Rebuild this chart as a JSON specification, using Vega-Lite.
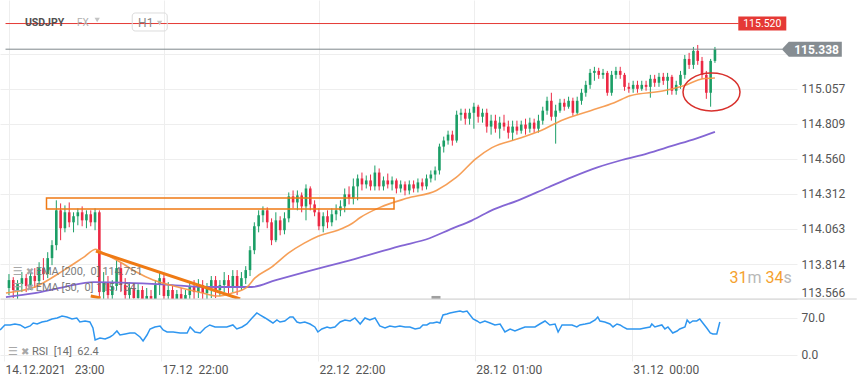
{
"$schema":"https://vega.github.io/schema/vega-lite/v6.json",
"padding":0,"spacing":0,"bounds":"flush","background":"white",
"config":{"view":{"stroke":null},"font":"Roboto","axis":{"domain":false,"ticks":false,"labelFont":"Roboto","labelFontSize":12,"labelColor":"#555","gridColor":"#eeeeee","labelOverlap":false}},
"datasets":{
"candles":[
{"t":0,"o":113.644,"h":113.743,"l":113.594,"c":113.700},
{"t":1,"o":113.700,"h":113.721,"l":113.573,"c":113.630},
{"t":2,"o":113.630,"h":113.700,"l":113.559,"c":113.672},
{"t":3,"o":113.672,"h":113.757,"l":113.615,"c":113.714},
{"t":4,"o":113.714,"h":113.743,"l":113.615,"c":113.658},
{"t":5,"o":113.658,"h":113.771,"l":113.630,"c":113.729},
{"t":6,"o":113.729,"h":113.785,"l":113.644,"c":113.693},
{"t":7,"o":113.693,"h":113.827,"l":113.665,"c":113.785},
{"t":8,"o":113.785,"h":113.856,"l":113.700,"c":113.743},
{"t":9,"o":113.743,"h":113.898,"l":113.714,"c":113.856},
{"t":10,"o":113.856,"h":113.983,"l":113.806,"c":113.948},
{"t":11,"o":113.948,"h":114.266,"l":113.912,"c":114.195},
{"t":12,"o":114.195,"h":114.244,"l":113.983,"c":114.068},
{"t":13,"o":114.068,"h":114.230,"l":114.039,"c":114.181},
{"t":14,"o":114.181,"h":114.251,"l":114.075,"c":114.110},
{"t":15,"o":114.110,"h":114.181,"l":114.039,"c":114.153},
{"t":16,"o":114.153,"h":114.209,"l":114.089,"c":114.181},
{"t":17,"o":114.181,"h":114.223,"l":114.082,"c":114.124},
{"t":18,"o":114.124,"h":114.195,"l":114.068,"c":114.167},
{"t":19,"o":114.167,"h":114.195,"l":114.082,"c":114.110},
{"t":20,"o":114.110,"h":114.209,"l":114.054,"c":114.181},
{"t":21,"o":114.181,"h":114.195,"l":113.524,"c":113.615},
{"t":22,"o":113.615,"h":113.757,"l":113.559,"c":113.686},
{"t":23,"o":113.686,"h":113.729,"l":113.524,"c":113.594},
{"t":24,"o":113.594,"h":113.700,"l":113.502,"c":113.658},
{"t":25,"o":113.658,"h":113.842,"l":113.630,"c":113.785},
{"t":26,"o":113.785,"h":113.827,"l":113.615,"c":113.665},
{"t":27,"o":113.665,"h":113.714,"l":113.502,"c":113.594},
{"t":28,"o":113.594,"h":113.686,"l":113.538,"c":113.644},
{"t":29,"o":113.644,"h":113.679,"l":113.488,"c":113.573},
{"t":30,"o":113.573,"h":113.672,"l":113.524,"c":113.630},
{"t":31,"o":113.630,"h":113.658,"l":113.474,"c":113.545},
{"t":32,"o":113.545,"h":113.644,"l":113.488,"c":113.587},
{"t":33,"o":113.587,"h":113.630,"l":113.453,"c":113.524},
{"t":34,"o":113.524,"h":113.700,"l":113.488,"c":113.665},
{"t":35,"o":113.665,"h":113.757,"l":113.594,"c":113.714},
{"t":36,"o":113.714,"h":113.743,"l":113.524,"c":113.587},
{"t":37,"o":113.587,"h":113.686,"l":113.488,"c":113.630},
{"t":38,"o":113.630,"h":113.665,"l":113.474,"c":113.559},
{"t":39,"o":113.559,"h":113.630,"l":113.502,"c":113.601},
{"t":40,"o":113.601,"h":113.644,"l":113.474,"c":113.538},
{"t":41,"o":113.538,"h":113.630,"l":113.488,"c":113.594},
{"t":42,"o":113.594,"h":113.686,"l":113.559,"c":113.651},
{"t":43,"o":113.651,"h":113.700,"l":113.559,"c":113.615},
{"t":44,"o":113.615,"h":113.707,"l":113.573,"c":113.665},
{"t":45,"o":113.665,"h":113.700,"l":113.545,"c":113.608},
{"t":46,"o":113.608,"h":113.679,"l":113.524,"c":113.644},
{"t":47,"o":113.644,"h":113.729,"l":113.573,"c":113.700},
{"t":48,"o":113.700,"h":113.729,"l":113.573,"c":113.630},
{"t":49,"o":113.630,"h":113.700,"l":113.587,"c":113.665},
{"t":50,"o":113.665,"h":113.757,"l":113.615,"c":113.700},
{"t":51,"o":113.700,"h":113.736,"l":113.601,"c":113.644},
{"t":52,"o":113.644,"h":113.771,"l":113.615,"c":113.729},
{"t":53,"o":113.729,"h":113.771,"l":113.594,"c":113.658},
{"t":54,"o":113.658,"h":113.757,"l":113.630,"c":113.714},
{"t":55,"o":113.714,"h":113.799,"l":113.672,"c":113.771},
{"t":56,"o":113.771,"h":113.941,"l":113.729,"c":113.912},
{"t":57,"o":113.912,"h":114.110,"l":113.884,"c":114.082},
{"t":58,"o":114.082,"h":114.195,"l":114.039,"c":114.160},
{"t":59,"o":114.160,"h":114.223,"l":114.110,"c":114.195},
{"t":60,"o":114.195,"h":114.216,"l":114.068,"c":114.110},
{"t":61,"o":114.110,"h":114.138,"l":113.948,"c":113.983},
{"t":62,"o":113.983,"h":114.181,"l":113.969,"c":114.124},
{"t":63,"o":114.124,"h":114.153,"l":114.018,"c":114.054},
{"t":64,"o":114.054,"h":114.181,"l":114.025,"c":114.138},
{"t":65,"o":114.138,"h":114.322,"l":114.110,"c":114.294},
{"t":66,"o":114.294,"h":114.336,"l":114.209,"c":114.251},
{"t":67,"o":114.251,"h":114.336,"l":114.195,"c":114.301},
{"t":68,"o":114.301,"h":114.322,"l":114.181,"c":114.223},
{"t":69,"o":114.223,"h":114.379,"l":114.124,"c":114.350},
{"t":70,"o":114.350,"h":114.365,"l":114.195,"c":114.237},
{"t":71,"o":114.237,"h":114.266,"l":114.153,"c":114.181},
{"t":72,"o":114.181,"h":114.209,"l":114.054,"c":114.082},
{"t":73,"o":114.082,"h":114.181,"l":114.039,"c":114.153},
{"t":74,"o":114.153,"h":114.195,"l":114.068,"c":114.110},
{"t":75,"o":114.110,"h":114.209,"l":114.082,"c":114.167},
{"t":76,"o":114.167,"h":114.237,"l":114.124,"c":114.195},
{"t":77,"o":114.195,"h":114.266,"l":114.153,"c":114.223},
{"t":78,"o":114.223,"h":114.350,"l":114.181,"c":114.308},
{"t":79,"o":114.308,"h":114.365,"l":114.237,"c":114.280},
{"t":80,"o":114.280,"h":114.421,"l":114.237,"c":114.365},
{"t":81,"o":114.365,"h":114.449,"l":114.266,"c":114.421},
{"t":82,"o":114.421,"h":114.463,"l":114.336,"c":114.379},
{"t":83,"o":114.379,"h":114.442,"l":114.350,"c":114.407},
{"t":84,"o":114.407,"h":114.449,"l":114.336,"c":114.365},
{"t":85,"o":114.365,"h":114.513,"l":114.336,"c":114.463},
{"t":86,"o":114.463,"h":114.492,"l":114.336,"c":114.365},
{"t":87,"o":114.365,"h":114.435,"l":114.336,"c":114.407},
{"t":88,"o":114.407,"h":114.456,"l":114.350,"c":114.379},
{"t":89,"o":114.379,"h":114.435,"l":114.336,"c":114.407},
{"t":90,"o":114.407,"h":114.421,"l":114.315,"c":114.350},
{"t":91,"o":114.350,"h":114.407,"l":114.322,"c":114.379},
{"t":92,"o":114.379,"h":114.400,"l":114.301,"c":114.336},
{"t":93,"o":114.336,"h":114.407,"l":114.308,"c":114.379},
{"t":94,"o":114.379,"h":114.407,"l":114.322,"c":114.350},
{"t":95,"o":114.350,"h":114.421,"l":114.322,"c":114.393},
{"t":96,"o":114.393,"h":114.421,"l":114.336,"c":114.365},
{"t":97,"o":114.365,"h":114.449,"l":114.343,"c":114.421},
{"t":98,"o":114.421,"h":114.478,"l":114.393,"c":114.449},
{"t":99,"o":114.449,"h":114.506,"l":114.407,"c":114.478},
{"t":100,"o":114.478,"h":114.668,"l":114.449,"c":114.647},
{"t":101,"o":114.647,"h":114.718,"l":114.605,"c":114.690},
{"t":102,"o":114.690,"h":114.760,"l":114.661,"c":114.732},
{"t":103,"o":114.732,"h":114.760,"l":114.654,"c":114.690},
{"t":104,"o":114.690,"h":114.902,"l":114.675,"c":114.873},
{"t":105,"o":114.873,"h":114.916,"l":114.831,"c":114.887},
{"t":106,"o":114.887,"h":114.916,"l":114.803,"c":114.845},
{"t":107,"o":114.845,"h":114.916,"l":114.803,"c":114.887},
{"t":108,"o":114.887,"h":114.958,"l":114.774,"c":114.930},
{"t":109,"o":114.930,"h":114.944,"l":114.817,"c":114.859},
{"t":110,"o":114.859,"h":114.916,"l":114.817,"c":114.887},
{"t":111,"o":114.887,"h":114.916,"l":114.746,"c":114.789},
{"t":112,"o":114.789,"h":114.873,"l":114.732,"c":114.831},
{"t":113,"o":114.831,"h":114.873,"l":114.746,"c":114.774},
{"t":114,"o":114.774,"h":114.859,"l":114.704,"c":114.817},
{"t":115,"o":114.817,"h":114.873,"l":114.760,"c":114.789},
{"t":116,"o":114.789,"h":114.831,"l":114.704,"c":114.746},
{"t":117,"o":114.746,"h":114.831,"l":114.690,"c":114.789},
{"t":118,"o":114.789,"h":114.831,"l":114.732,"c":114.760},
{"t":119,"o":114.760,"h":114.831,"l":114.739,"c":114.803},
{"t":120,"o":114.803,"h":114.845,"l":114.732,"c":114.774},
{"t":121,"o":114.774,"h":114.852,"l":114.746,"c":114.817},
{"t":122,"o":114.817,"h":114.845,"l":114.746,"c":114.774},
{"t":123,"o":114.774,"h":114.873,"l":114.746,"c":114.831},
{"t":124,"o":114.831,"h":114.930,"l":114.803,"c":114.902},
{"t":125,"o":114.902,"h":115.001,"l":114.873,"c":114.972},
{"t":126,"o":114.972,"h":115.029,"l":114.831,"c":114.859},
{"t":127,"o":114.859,"h":114.944,"l":114.668,"c":114.902},
{"t":128,"o":114.902,"h":114.986,"l":114.887,"c":114.958},
{"t":129,"o":114.958,"h":114.986,"l":114.902,"c":114.930},
{"t":130,"o":114.930,"h":115.001,"l":114.916,"c":114.972},
{"t":131,"o":114.972,"h":114.994,"l":114.866,"c":114.887},
{"t":132,"o":114.887,"h":115.001,"l":114.873,"c":114.972},
{"t":133,"o":114.972,"h":115.057,"l":114.944,"c":115.029},
{"t":134,"o":115.029,"h":115.114,"l":115.001,"c":115.085},
{"t":135,"o":115.085,"h":115.198,"l":115.057,"c":115.170},
{"t":136,"o":115.170,"h":115.213,"l":115.114,"c":115.184},
{"t":137,"o":115.184,"h":115.206,"l":115.128,"c":115.156},
{"t":138,"o":115.156,"h":115.198,"l":115.128,"c":115.170},
{"t":139,"o":115.170,"h":115.184,"l":115.008,"c":115.029},
{"t":140,"o":115.029,"h":115.184,"l":115.008,"c":115.156},
{"t":141,"o":115.156,"h":115.213,"l":115.128,"c":115.184},
{"t":142,"o":115.184,"h":115.213,"l":115.128,"c":115.156},
{"t":143,"o":115.156,"h":115.170,"l":115.043,"c":115.071},
{"t":144,"o":115.071,"h":115.100,"l":115.029,"c":115.057},
{"t":145,"o":115.057,"h":115.114,"l":115.029,"c":115.085},
{"t":146,"o":115.085,"h":115.114,"l":115.029,"c":115.057},
{"t":147,"o":115.057,"h":115.114,"l":115.043,"c":115.085},
{"t":148,"o":115.085,"h":115.114,"l":115.043,"c":115.071},
{"t":149,"o":115.071,"h":115.156,"l":114.994,"c":115.128},
{"t":150,"o":115.128,"h":115.156,"l":115.071,"c":115.100},
{"t":151,"o":115.100,"h":115.170,"l":115.071,"c":115.142},
{"t":152,"o":115.142,"h":115.170,"l":115.085,"c":115.114},
{"t":153,"o":115.114,"h":115.170,"l":115.015,"c":115.142},
{"t":154,"o":115.142,"h":115.156,"l":115.015,"c":115.043},
{"t":155,"o":115.043,"h":115.114,"l":115.015,"c":115.085},
{"t":156,"o":115.085,"h":115.184,"l":115.057,"c":115.156},
{"t":157,"o":115.156,"h":115.297,"l":115.128,"c":115.269},
{"t":158,"o":115.269,"h":115.312,"l":115.198,"c":115.227},
{"t":159,"o":115.227,"h":115.354,"l":115.198,"c":115.326},
{"t":160,"o":115.326,"h":115.368,"l":115.227,"c":115.255},
{"t":161,"o":115.255,"h":115.283,"l":115.128,"c":115.156},
{"t":162,"o":115.156,"h":115.184,"l":114.986,"c":115.029},
{"t":163,"o":115.029,"h":115.269,"l":114.930,"c":115.255},
{"t":164,"o":115.255,"h":115.354,"l":115.241,"c":115.338}
],
"ema50":[
{"t":-0.7,"p":113.608},{"t":6.0,"p":113.651},{"t":12.8,"p":113.771},{"t":17.4,"p":113.863},{"t":20.2,"p":113.919},{"t":22.0,"p":113.891},{"t":25.9,"p":113.827},{"t":29.6,"p":113.757},{"t":33.5,"p":113.700},{"t":37.4,"p":113.665},{"t":45.0,"p":113.608},{"t":48.4,"p":113.587},{"t":51.8,"p":113.608},{"t":55.3,"p":113.651},{"t":57.1,"p":113.714},{"t":61.0,"p":113.792},{"t":64.9,"p":113.891},{"t":68.6,"p":113.962},{"t":71.8,"p":114.011},{"t":76.4,"p":114.054},{"t":79.4,"p":114.096},{"t":81.7,"p":114.146},{"t":86.2,"p":114.216},{"t":92.4,"p":114.280},{"t":99.3,"p":114.336},{"t":103.9,"p":114.428},{"t":108.5,"p":114.562},{"t":112.2,"p":114.640},{"t":118.4,"p":114.704},{"t":124.5,"p":114.774},{"t":128.2,"p":114.831},{"t":135.1,"p":114.902},{"t":140.6,"p":114.958},{"t":144.3,"p":115.008},{"t":152.1,"p":115.043},{"t":156.7,"p":115.078},{"t":161.2,"p":115.128},{"t":164.0,"p":115.134}
],
"ema200":[
{"t":-0.7,"p":113.580},{"t":6.0,"p":113.608},{"t":12.8,"p":113.651},{"t":19.7,"p":113.686},{"t":28.9,"p":113.679},{"t":38.1,"p":113.665},{"t":45.0,"p":113.651},{"t":56.4,"p":113.651},{"t":62.0,"p":113.700},{"t":67.9,"p":113.750},{"t":79.4,"p":113.842},{"t":90.8,"p":113.941},{"t":97.7,"p":113.997},{"t":102.5,"p":114.060},{"t":107.6,"p":114.124},{"t":112.6,"p":114.202},{"t":118.3,"p":114.266},{"t":125.2,"p":114.357},{"t":130.8,"p":114.430},{"t":136.7,"p":114.499},{"t":142.4,"p":114.552},{"t":148.2,"p":114.598},{"t":154.0,"p":114.652},{"t":159.6,"p":114.704},{"t":164.0,"p":114.751}
],
"rsi":[
{"t":-0.9,"v":47.3},{"t":0.2,"v":56.8},{"t":1.4,"v":56.8},{"t":2.5,"v":58.6},{"t":3.7,"v":56.8},{"t":4.8,"v":51.1},{"t":6.0,"v":54.9},{"t":6.7,"v":60.5},{"t":7.6,"v":58.6},{"t":8.7,"v":62.4},{"t":9.9,"v":64.3},{"t":11.0,"v":68.1},{"t":12.2,"v":70.0},{"t":13.3,"v":73.8},{"t":14.4,"v":71.9},{"t":15.6,"v":68.1},{"t":16.7,"v":70.0},{"t":17.4,"v":62.4},{"t":18.6,"v":64.3},{"t":19.7,"v":62.4},{"t":20.4,"v":51.1},{"t":20.9,"v":28.4},{"t":22.0,"v":32.2},{"t":23.2,"v":30.3},{"t":24.3,"v":34.1},{"t":25.0,"v":37.8},{"t":25.9,"v":45.4},{"t":26.6,"v":37.8},{"t":27.8,"v":39.7},{"t":28.9,"v":41.6},{"t":30.0,"v":41.6},{"t":31.2,"v":34.1},{"t":31.9,"v":26.5},{"t":32.8,"v":37.8},{"t":33.5,"v":49.2},{"t":34.6,"v":53.0},{"t":35.8,"v":54.9},{"t":36.5,"v":47.3},{"t":37.4,"v":43.5},{"t":38.8,"v":43.5},{"t":40.4,"v":41.6},{"t":42.0,"v":41.6},{"t":42.7,"v":53.0},{"t":43.8,"v":43.5},{"t":45.0,"v":41.6},{"t":46.1,"v":51.1},{"t":47.2,"v":56.8},{"t":48.4,"v":53.0},{"t":49.5,"v":53.0},{"t":51.1,"v":53.0},{"t":52.5,"v":56.8},{"t":53.4,"v":49.2},{"t":54.6,"v":53.0},{"t":55.7,"v":58.6},{"t":56.9,"v":70.0},{"t":58.0,"v":79.5},{"t":58.7,"v":75.7},{"t":59.9,"v":70.0},{"t":61.0,"v":64.3},{"t":61.7,"v":60.5},{"t":62.6,"v":66.2},{"t":63.3,"v":62.4},{"t":64.4,"v":64.3},{"t":65.6,"v":71.9},{"t":66.3,"v":71.9},{"t":67.2,"v":62.4},{"t":67.9,"v":60.5},{"t":69.0,"v":62.4},{"t":70.2,"v":58.6},{"t":71.3,"v":53.0},{"t":72.0,"v":43.5},{"t":72.9,"v":49.2},{"t":74.1,"v":53.0},{"t":74.8,"v":51.1},{"t":75.9,"v":53.0},{"t":77.1,"v":62.4},{"t":78.2,"v":66.2},{"t":79.4,"v":64.3},{"t":80.5,"v":70.0},{"t":81.7,"v":58.6},{"t":82.8,"v":70.0},{"t":83.9,"v":66.2},{"t":85.1,"v":70.0},{"t":86.2,"v":54.9},{"t":87.4,"v":51.1},{"t":88.5,"v":54.9},{"t":89.7,"v":53.0},{"t":90.8,"v":54.9},{"t":92.0,"v":53.0},{"t":93.1,"v":53.0},{"t":94.3,"v":49.2},{"t":95.4,"v":51.1},{"t":96.1,"v":56.8},{"t":97.0,"v":56.8},{"t":97.7,"v":60.5},{"t":98.4,"v":60.5},{"t":99.3,"v":62.4},{"t":100.0,"v":60.5},{"t":100.7,"v":75.7},{"t":101.6,"v":77.6},{"t":102.3,"v":79.5},{"t":103.4,"v":81.3},{"t":104.6,"v":83.2},{"t":105.3,"v":81.3},{"t":106.2,"v":83.2},{"t":106.9,"v":75.7},{"t":107.6,"v":68.1},{"t":108.5,"v":64.3},{"t":109.2,"v":60.5},{"t":110.3,"v":64.3},{"t":111.5,"v":60.5},{"t":112.6,"v":56.8},{"t":113.8,"v":58.6},{"t":114.9,"v":43.5},{"t":116.1,"v":49.2},{"t":117.2,"v":45.4},{"t":118.3,"v":49.2},{"t":119.5,"v":53.0},{"t":120.6,"v":53.0},{"t":121.8,"v":53.0},{"t":122.9,"v":58.6},{"t":124.1,"v":64.3},{"t":125.2,"v":56.8},{"t":126.4,"v":58.6},{"t":127.1,"v":43.5},{"t":128.0,"v":56.8},{"t":129.1,"v":56.8},{"t":130.3,"v":56.8},{"t":131.4,"v":53.0},{"t":132.1,"v":56.8},{"t":133.3,"v":58.6},{"t":134.4,"v":60.5},{"t":135.6,"v":66.2},{"t":136.2,"v":71.9},{"t":136.7,"v":64.3},{"t":137.8,"v":62.4},{"t":139.0,"v":58.6},{"t":139.7,"v":53.0},{"t":140.6,"v":58.6},{"t":141.3,"v":56.8},{"t":142.0,"v":53.0},{"t":142.9,"v":49.2},{"t":144.0,"v":49.2},{"t":145.9,"v":49.2},{"t":147.0,"v":51.1},{"t":148.2,"v":53.0},{"t":148.6,"v":58.6},{"t":149.3,"v":53.0},{"t":150.0,"v":54.9},{"t":150.9,"v":56.8},{"t":151.6,"v":49.2},{"t":152.3,"v":53.0},{"t":153.4,"v":41.6},{"t":154.4,"v":45.4},{"t":155.0,"v":49.2},{"t":156.2,"v":53.0},{"t":156.7,"v":66.2},{"t":157.3,"v":60.5},{"t":158.0,"v":64.3},{"t":158.9,"v":64.3},{"t":159.6,"v":68.1},{"t":160.3,"v":60.5},{"t":161.2,"v":51.1},{"t":162.0,"v":41.6},{"t":162.6,"v":39.7},{"t":163.5,"v":39.7},{"t":164.2,"v":62.4}
],
"zone":[{"t1":8.72,"t2":89.45,"p1":114.204,"p2":114.282}],
"trend":[{"g":"a","t":20.2,"p":113.906},{"g":"a","t":53.7,"p":113.566},{"g":"b","t":19.0,"p":113.587},{"g":"b","t":21.3,"p":113.573}],
"alertLine":[{"t1":-0.8,"t2":169.5,"p":115.52}],
"lastLine":[{"t1":-0.8,"t2":179.6,"p":115.338}],
"alertTag":[{"t":175.0,"p":115.52,"label":"115.520"}],
"lastTag":[{"t":186.5,"p":115.338,"tx":187.6,"label":"115.338"}],
"circle":[{"t":163.2,"p":115.034}],
"symbol":[{"t":3.7,"p":115.522,"txt":"USDJPY"}],
"market":[{"t":15.8,"p":115.522,"txt":"FX"}],
"interval":[{"t":30.0,"p":115.524,"txt":"H1","bt":32.7,"bp":115.531}],
"dropdowns":[{"t":20.5,"p":115.545},{"t":35.0,"p":115.524}],
"emaLegend":[{"t":6.2,"p":113.757,"txt":"EMA [200,\u00a0 0]\u00a0114.751","it":0.9,"xt":3.9},{"t":6.2,"p":113.644,"txt":"EMA [50,\u00a0 0]\u00a0115.134","it":0.9,"xt":3.9}],
"timer":[{"t":167.4,"p":113.718}],
"handle":[{"t":99.2,"p":113.577}],
"divider":[{"t1":-0.8,"t2":195.6,"v":105.9}],
"rsiLegend":[{"t":6.4,"v":5.7,"txt":"RSI\u00a0 [14]\u00a0 62.4","it":0.9,"xt":3.9}]
},
"vconcat":[
{
"width":797,"height":299,
"layer":[
{"data":{"name":"candles"},"mark":{"type":"rule","strokeWidth":1,"clip":true},
 "encoding":{
  "x":{"field":"t","type":"quantitative","title":null,"scale":{"domain":[-0.92,181.9],"nice":false,"zero":false},"axis":{"values":[0,36,72,108,144],"labels":false,"grid":true,"title":null}},
  "y":{"field":"l","type":"quantitative","title":null,"scale":{"domain":[113.566,115.687],"nice":false,"zero":false},"axis":{"orient":"right","title":null,"values":[113.566,113.814,114.063,114.312,114.56,114.809,115.057,115.306],"labelExpr":"datum.value > 115.2 ? '' : format(datum.value, '.3f')","labelFlush":true,"labelPadding":4,"grid":true}},
  "y2":{"field":"h"},
  "color":{"condition":{"test":"datum.c >= datum.o","value":"#1b9e66"},"value":"#ec2944"}}},
{"data":{"name":"candles"},"mark":{"type":"bar","width":2.6,"clip":true},
 "encoding":{
  "x":{"field":"t","type":"quantitative","title":null},
  "y":{"field":"o","type":"quantitative","title":null},
  "y2":{"field":"c"},
  "color":{"condition":{"test":"datum.c >= datum.o","value":"#1b9e66"},"value":"#ec2944"}}},
{"data":{"name":"ema200"},"mark":{"type":"line","color":"#8466d4","strokeWidth":1.8,"interpolate":"monotone","clip":true},
 "encoding":{"x":{"field":"t","type":"quantitative","title":null},"y":{"field":"p","type":"quantitative","title":null}}},
{"data":{"name":"ema50"},"mark":{"type":"line","color":"#f59545","strokeWidth":1.6,"opacity":0.9,"interpolate":"monotone","clip":true},
 "encoding":{"x":{"field":"t","type":"quantitative","title":null},"y":{"field":"p","type":"quantitative","title":null}}},
{"data":{"name":"zone"},"mark":{"type":"rect","filled":false,"color":"#ef7a14","strokeWidth":1.5},
 "encoding":{"x":{"field":"t1","type":"quantitative","title":null},"x2":{"field":"t2"},"y":{"field":"p1","type":"quantitative","title":null},"y2":{"field":"p2"}}},
{"data":{"name":"trend"},"mark":{"type":"line","color":"#ef7a14","strokeWidth":3,"clip":true},
 "encoding":{"x":{"field":"t","type":"quantitative","title":null},"y":{"field":"p","type":"quantitative","title":null},"detail":{"field":"g"}}},
{"data":{"name":"alertLine"},"mark":{"type":"rule","color":"#e53935","strokeWidth":1},
 "encoding":{"x":{"field":"t1","type":"quantitative","title":null},"x2":{"field":"t2"},"y":{"field":"p","type":"quantitative","title":null}}},
{"data":{"name":"lastLine"},"mark":{"type":"rule","color":"#7f878c","strokeWidth":1},
 "encoding":{"x":{"field":"t1","type":"quantitative","title":null},"x2":{"field":"t2"},"y":{"field":"p","type":"quantitative","title":null}}},
{"data":{"name":"circle"},"mark":{"type":"point","shape":"M -28.5 0 A 28.5 19 0 1 1 28.5 0 A 28.5 19 0 1 1 -28.5 0 Z","size":4,"filled":false,"color":"#d8302c","strokeWidth":1.5,"opacity":1},
 "encoding":{"x":{"field":"t","type":"quantitative","title":null},"y":{"field":"p","type":"quantitative","title":null}}},
{"data":{"name":"alertTag"},"mark":{"type":"point","shape":"M -24 -7 L 24 -7 L 24 7 L -24 7 Z","size":4,"filled":true,"color":"#e53935","opacity":1},
 "encoding":{"x":{"field":"t","type":"quantitative","title":null},"y":{"field":"p","type":"quantitative","title":null}}},
{"data":{"name":"alertTag"},"mark":{"type":"text","color":"white","fontSize":10.5,"align":"center","baseline":"middle","dy":0.5},
 "encoding":{"x":{"field":"t","type":"quantitative","title":null},"y":{"field":"p","type":"quantitative","title":null},"text":{"field":"label"}}},
{"data":{"name":"lastTag"},"mark":{"type":"point","shape":"M -30 0 L -23 -7.5 L 30 -7.5 L 30 7.5 L -23 7.5 Z","size":4,"filled":true,"color":"#868d92","opacity":1},
 "encoding":{"x":{"field":"t","type":"quantitative","title":null},"y":{"field":"p","type":"quantitative","title":null}}},
{"data":{"name":"lastTag"},"mark":{"type":"text","color":"white","fontSize":12,"fontWeight":"bold","align":"center","baseline":"middle","dy":0.5},
 "encoding":{"x":{"field":"tx","type":"quantitative","title":null},"y":{"field":"p","type":"quantitative","title":null},"text":{"field":"label"}}},
{"data":{"name":"symbol"},"mark":{"type":"text","color":"#505050","fontSize":10.5,"fontWeight":"bold","align":"left","baseline":"middle"},
 "encoding":{"x":{"field":"t","type":"quantitative","title":null},"y":{"field":"p","type":"quantitative","title":null},"text":{"field":"txt"}}},
{"data":{"name":"market"},"mark":{"type":"text","color":"#b0b0b0","fontSize":10,"align":"left","baseline":"middle"},
 "encoding":{"x":{"field":"t","type":"quantitative","title":null},"y":{"field":"p","type":"quantitative","title":null},"text":{"field":"txt"}}},
{"data":{"name":"interval"},"mark":{"type":"text","color":"#888","fontSize":12,"align":"left","baseline":"middle"},
 "encoding":{"x":{"field":"t","type":"quantitative","title":null},"y":{"field":"p","type":"quantitative","title":null},"text":{"field":"txt"}}},
{"data":{"name":"interval"},"mark":{"type":"point","shape":"M -14.5 -9 L 14.5 -9 A 3 3 0 0 1 17.5 -6 L 17.5 6 A 3 3 0 0 1 14.5 9 L -14.5 9 A 3 3 0 0 1 -17.5 6 L -17.5 -6 A 3 3 0 0 1 -14.5 -9 Z","size":4,"filled":false,"color":"#dcdcdc","strokeWidth":1,"opacity":1},
 "encoding":{"x":{"field":"bt","type":"quantitative","title":null},"y":{"field":"bp","type":"quantitative","title":null}}},
{"data":{"name":"dropdowns"},"mark":{"type":"point","shape":"triangle-down","size":28,"filled":true,"color":"#c4c4c4","opacity":1},
 "encoding":{"x":{"field":"t","type":"quantitative","title":null},"y":{"field":"p","type":"quantitative","title":null}}},
{"data":{"name":"emaLegend"},"mark":{"type":"text","color":"#6f6f6f","fontSize":11,"align":"left","baseline":"middle","opacity":0.9},
 "encoding":{"x":{"field":"t","type":"quantitative","title":null},"y":{"field":"p","type":"quantitative","title":null},"text":{"field":"txt"}}},
{"data":{"name":"emaLegend"},"mark":{"type":"text","text":"☰","font":"DejaVu Sans","color":"#a8a8a8","fontSize":11,"align":"left","baseline":"middle"},
 "encoding":{"x":{"field":"it","type":"quantitative","title":null},"y":{"field":"p","type":"quantitative","title":null}}},
{"data":{"name":"emaLegend"},"mark":{"type":"text","text":"✖","font":"DejaVu Sans","color":"#a8a8a8","fontSize":10,"align":"left","baseline":"middle"},
 "encoding":{"x":{"field":"xt","type":"quantitative","title":null},"y":{"field":"p","type":"quantitative","title":null}}},
{"data":{"name":"timer"},"mark":{"type":"text","text":"31","color":"#f5a12e","fontSize":16,"align":"left","baseline":"middle"},
 "encoding":{"x":{"field":"t","type":"quantitative","title":null},"y":{"field":"p","type":"quantitative","title":null}}},
{"data":{"name":"timer"},"mark":{"type":"text","text":"m","color":"#b8b8b8","fontSize":16,"align":"left","baseline":"middle","dx":18},
 "encoding":{"x":{"field":"t","type":"quantitative","title":null},"y":{"field":"p","type":"quantitative","title":null}}},
{"data":{"name":"timer"},"mark":{"type":"text","text":"34","color":"#f5a12e","fontSize":16,"align":"left","baseline":"middle","dx":36},
 "encoding":{"x":{"field":"t","type":"quantitative","title":null},"y":{"field":"p","type":"quantitative","title":null}}},
{"data":{"name":"timer"},"mark":{"type":"text","text":"s","color":"#b8b8b8","fontSize":16,"align":"left","baseline":"middle","dx":54},
 "encoding":{"x":{"field":"t","type":"quantitative","title":null},"y":{"field":"p","type":"quantitative","title":null}}},
{"data":{"name":"handle"},"mark":{"type":"point","shape":"M -4.5 -1.5 L 4.5 -1.5 L 4.5 1.5 L -4.5 1.5 Z","size":4,"filled":true,"color":"#a0a0a0","opacity":1},
 "encoding":{"x":{"field":"t","type":"quantitative","title":null},"y":{"field":"p","type":"quantitative","title":null}}}
]
},
{
"width":797,"height":62,
"layer":[
{"data":{"name":"rsi"},"mark":{"type":"line","color":"#2e96f0","strokeWidth":1.5,"clip":true},
 "encoding":{
  "x":{"field":"t","type":"quantitative","title":null,"scale":{"domain":[-0.92,181.9],"nice":false,"zero":false},"axis":{"values":[0,36,72,108,144],"title":null,"grid":true,"labelAlign":"left","labelOffset":1,"labelPadding":3,"labelFlush":false,"labelExpr":"datum.value == 0 ? '14.12.2021\u00a0\u00a0\u00a023:00' : datum.value == 36 ? '17.12\u00a0\u00a022:00' : datum.value == 72 ? '22.12\u00a0\u00a022:00' : datum.value == 108 ? '28.12\u00a0\u00a001:00' : '31.12\u00a0\u00a000:00'"}},
  "y":{"field":"v","type":"quantitative","title":null,"scale":{"domain":[-11.35,105.9],"nice":false,"zero":false},"axis":{"orient":"right","title":null,"values":[0,70],"format":".1f","labelPadding":4,"grid":true}}}},
{"data":{"name":"divider"},"mark":{"type":"rule","color":"#d0d0d0","strokeWidth":1},
 "encoding":{"x":{"field":"t1","type":"quantitative","title":null},"x2":{"field":"t2"},"y":{"field":"v","type":"quantitative","title":null}}},
{"data":{"name":"rsiLegend"},"mark":{"type":"text","color":"#6f6f6f","fontSize":11,"align":"left","baseline":"middle"},
 "encoding":{"x":{"field":"t","type":"quantitative","title":null},"y":{"field":"v","type":"quantitative","title":null},"text":{"field":"txt"}}},
{"data":{"name":"rsiLegend"},"mark":{"type":"text","text":"☰","font":"DejaVu Sans","color":"#a8a8a8","fontSize":11,"align":"left","baseline":"middle"},
 "encoding":{"x":{"field":"it","type":"quantitative","title":null},"y":{"field":"v","type":"quantitative","title":null}}},
{"data":{"name":"rsiLegend"},"mark":{"type":"text","text":"✖","font":"DejaVu Sans","color":"#a8a8a8","fontSize":10,"align":"left","baseline":"middle"},
 "encoding":{"x":{"field":"xt","type":"quantitative","title":null},"y":{"field":"v","type":"quantitative","title":null}}}
]
}
]
}
